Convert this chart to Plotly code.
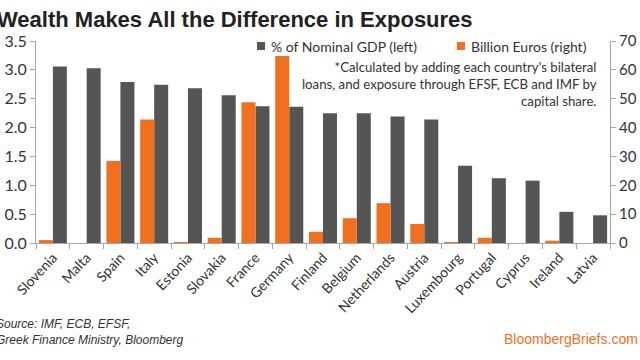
import plotly.graph_objects as go

countries = ["Slovenia", "Malta", "Spain", "Italy", "Estonia", "Slovakia", "France", "Germany",
             "Finland", "Belgium", "Netherlands", "Austria", "Luxembourg", "Portugal", "Cyprus",
             "Ireland", "Latvia"]
pct_gdp = [3.06, 3.03, 2.79, 2.74, 2.68, 2.56, 2.37, 2.36, 2.25, 2.25, 2.19, 2.14, 1.34, 1.12,
           1.08, 0.54, 0.48]
billion_eur = [1.0, 0.0, 28.4, 42.8, 0.2, 1.8, 48.8, 64.8, 3.9, 8.6, 13.8, 6.6, 0.3, 1.8, 0.0,
               0.8, 0.0]

left_ticks = [0, 0.5, 1.0, 1.5, 2.0, 2.5, 3.0, 3.5]
left_ticktext = ["0.0", "0.5", "1.0", "1.5", "2.0", "2.5", "3.0", "3.5"]
right_ticks = [0, 10, 20, 30, 40, 50, 60, 70]

GRAY = "#555555"
ORANGE = "#f0701f"
AXIS = "#a6a6a6"
TXT = "#333333"
FONT = "Lato"

W, H = 640, 360
L, R, T, B = 36, 30, 41, 117
PW, PH = W - L - R, H - T - B


def px(x):
    return (x - L) / PW


def py(y):
    return (H - B - y) / PH


fig = go.Figure()
fig.add_trace(go.Bar(x=countries, y=billion_eur, name="Billion Euros (right)",
                     marker=dict(color=ORANGE, line=dict(width=0)), yaxis="y2",
                     offsetgroup="eur"))
fig.add_trace(go.Bar(x=countries, y=pct_gdp, name="% of Nominal GDP (left)",
                     marker=dict(color=GRAY, line=dict(width=0)), yaxis="y",
                     offsetgroup="gdp"))

fig.update_layout(
    width=W, height=H,
    margin=dict(l=L, r=R, t=T, b=B, pad=0, autoexpand=False),
    paper_bgcolor="white", plot_bgcolor="white",
    barmode="group", bargap=0.17, bargroupgap=0,
    font=dict(family=FONT, color=TXT),
    showlegend=False,
    xaxis=dict(showline=True, linecolor=AXIS, linewidth=1, ticks="outside", tickson="boundaries",
               ticklen=5, tickcolor=AXIS, tickangle=-47, tickfont=dict(size=14, color=TXT),
               showgrid=False, zeroline=False, automargin=False),
    yaxis=dict(range=[0, 3.5], tickvals=left_ticks, ticktext=left_ticktext, showline=True,
               linecolor=AXIS, ticks="outside", ticklen=5, tickcolor=AXIS, showgrid=False,
               zeroline=False, tickfont=dict(size=16, color=TXT), automargin=False),
    yaxis2=dict(range=[0, 70], tickvals=right_ticks, overlaying="y", side="right", showline=True,
                linecolor=AXIS, ticks="outside", ticklen=5, tickcolor=AXIS, showgrid=False,
                zeroline=False, tickfont=dict(size=15, color=TXT), automargin=False),
)

# legend keys and labels
for x0, color, label in [(257, GRAY, "% of Nominal GDP (left)"), (457, ORANGE, "Billion Euros (right)")]:
    fig.add_shape(type="rect", xref="paper", yref="paper", x0=px(x0), x1=px(x0 + 8),
                  y0=py(50), y1=py(42), fillcolor=color, line=dict(width=0))
    fig.add_annotation(text=label, xref="paper", yref="paper", x=px(x0 + 12), y=py(46),
                       xanchor="left", yanchor="middle", showarrow=False,
                       font=dict(size=14, color=TXT))

fig.add_annotation(text="<b>Wealth Makes All the Difference in Exposures</b>", xref="paper",
                   yref="paper", x=px(-5), y=py(20), xanchor="left", yanchor="middle",
                   showarrow=False, font=dict(family="Liberation Sans", size=22, color="#222222"))
fig.add_annotation(text="*Calculated by adding each country's bilateral<br>loans, and exposure through EFSF, ECB and IMF by<br>capital share.",
                   xref="paper", yref="paper", x=px(599), y=py(57),
                   xanchor="right", yanchor="top", align="right", showarrow=False,
                   font=dict(size=13.2, color=TXT))
fig.add_annotation(text="<i>Source: IMF, ECB, EFSF,<br>Greek Finance Ministry, Bloomberg</i>",
                   xref="paper", yref="paper", x=px(-6), y=py(315),
                   xanchor="left", yanchor="top", align="left", showarrow=False,
                   font=dict(family="Liberation Sans", size=12, color=TXT))
fig.add_annotation(text="BloombergBriefs.com", xref="paper", yref="paper",
                   x=px(640), y=py(339), xanchor="right", yanchor="middle",
                   showarrow=False, font=dict(family="Liberation Sans", size=14, color=ORANGE))

# the page body has a default 8px margin; remove it so the figure fills the window exactly
fig.write_html("out.html", config={"displayModeBar": False},
               post_script="document.body.style.margin='0px';")
